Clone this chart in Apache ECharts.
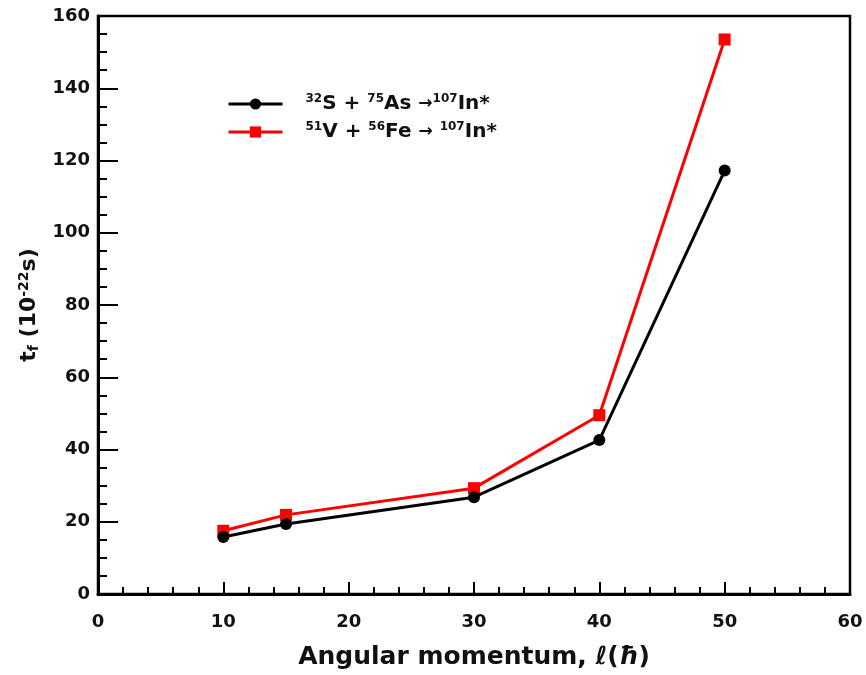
<!DOCTYPE html>
<html>
<head>
<meta charset="utf-8">
<script src="https://cdn.jsdelivr.net/npm/echarts@6/dist/echarts.min.js"></script>
<style>
  html, body { margin: 0; padding: 0; background: #fff; }
  #main { width: 866px; height: 675px; }
</style>
</head>
<body>
<div id="main"></div>
<script>
// angular momentum values (hbar)
var ell = [10, 15, 30, 40, 50];
// fission time t_f (10^-22 s)
var tS_As = [15.8, 19.4, 26.8, 42.6, 117.2];
var tV_Fe = [17.5, 21.9, 29.3, 49.5, 153.5];

var seriesNames = ['S+As', 'V+Fe'];
var legendLabels = {
    'S+As': '{sup|32}S + {sup|75}As {arr|\u2192}{sup|107}In*',
    'V+Fe': '{sup|51}V + {sup|56}Fe {arr|\u2192} {sup|107}In*'
};

function pairs(xs, ys) {
    var out = [];
    for (var i = 0; i < xs.length; i++) out.push([xs[i], ys[i]]);
    return out;
}

var font = 'DejaVu Sans';
var chart = echarts.init(document.getElementById('main'));
chart.setOption({
    animation: false,
    grid: {
        left: 98,
        right: 16,
        top: 16,
        bottom: 80,
        show: true,
        borderColor: '#000',
        borderWidth: 2.5
    },
    legend: {
        orient: 'vertical',
        left: 222,
        top: 88,
        itemWidth: 54,
        itemHeight: 14,
        itemGap: 7,
        data: seriesNames,
        lineStyle: { width: 3 },
        formatter: function (name) { return legendLabels[name]; },
        textStyle: {
            fontFamily: font,
            fontWeight: 'bold',
            fontSize: 20,
            color: '#111',
            padding: [0, 0, 0, 18],
            rich: {
                sup: { fontFamily: font, fontWeight: 'bold', fontSize: 12, verticalAlign: 'top', padding: [0, 0, 10, 0], color: '#111' },
                arr: { fontFamily: font, fontWeight: 'bold', fontSize: 17, color: '#111' }
            }
        }
    },
    xAxis: {
        type: 'value',
        min: 0,
        max: 60,
        interval: 10,
        name: 'Angular momentum, \u2113({h|\u0127})',
        nameLocation: 'middle',
        nameGap: 51,
        nameTextStyle: {
            fontFamily: font, fontWeight: 'bold', fontSize: 25, color: '#111',
            rich: {
                h: { fontFamily: font, fontWeight: 'bold', fontStyle: 'italic', fontSize: 25, color: '#111' }
            }
        },
        axisLine: { lineStyle: { color: '#000', width: 3 } },
        axisTick: { inside: true, length: 12, lineStyle: { color: '#000', width: 2 } },
        minorTick: { show: true, splitNumber: 5, length: 7, lineStyle: { color: '#000', width: 2 } },
        axisLabel: { fontFamily: font, fontWeight: 'bold', fontSize: 18, color: '#111', margin: 19 },
        splitLine: { show: false }
    },
    yAxis: {
        type: 'value',
        min: 0,
        max: 160,
        interval: 20,
        name: '{b|t}{sub|f} {b|(10}{sup|-22}{b|s)}',
        nameLocation: 'middle',
        nameGap: 52,
        nameTextStyle: {
            fontFamily: font, fontWeight: 'bold', fontSize: 22, color: '#111',
            rich: {
                b: { fontFamily: font, fontWeight: 'bold', fontSize: 22, color: '#111' },
                sub: { fontFamily: font, fontWeight: 'bold', fontSize: 14, color: '#111', verticalAlign: 'bottom', padding: [9, 0, 0, 0] },
                sup: { fontFamily: font, fontWeight: 'bold', fontSize: 14, color: '#111', verticalAlign: 'top', padding: [0, 0, 10, 0] }
            }
        },
        axisLine: { show: true, lineStyle: { color: '#000', width: 3 } },
        axisTick: { show: true, inside: true, length: 20, lineStyle: { color: '#000', width: 2 } },
        minorTick: { show: true, splitNumber: 4, length: 9, lineStyle: { color: '#000', width: 2 } },
        axisLabel: { fontFamily: font, fontWeight: 'bold', fontSize: 18, color: '#111', margin: 8 },
        splitLine: { show: false }
    },
    series: [
        {
            name: seriesNames[0],
            type: 'line',
            data: pairs(ell, tS_As),
            symbol: 'circle',
            symbolSize: 12,
            color: '#000',
            lineStyle: { color: '#000', width: 3 },
            itemStyle: { color: '#000' },
            z: 3
        },
        {
            name: seriesNames[1],
            type: 'line',
            data: pairs(ell, tV_Fe),
            symbol: 'rect',
            symbolSize: 12,
            color: '#f00',
            lineStyle: { color: '#f00', width: 3 },
            itemStyle: { color: '#f00' },
            z: 2
        }
    ]
});
</script>
</body>
</html>
